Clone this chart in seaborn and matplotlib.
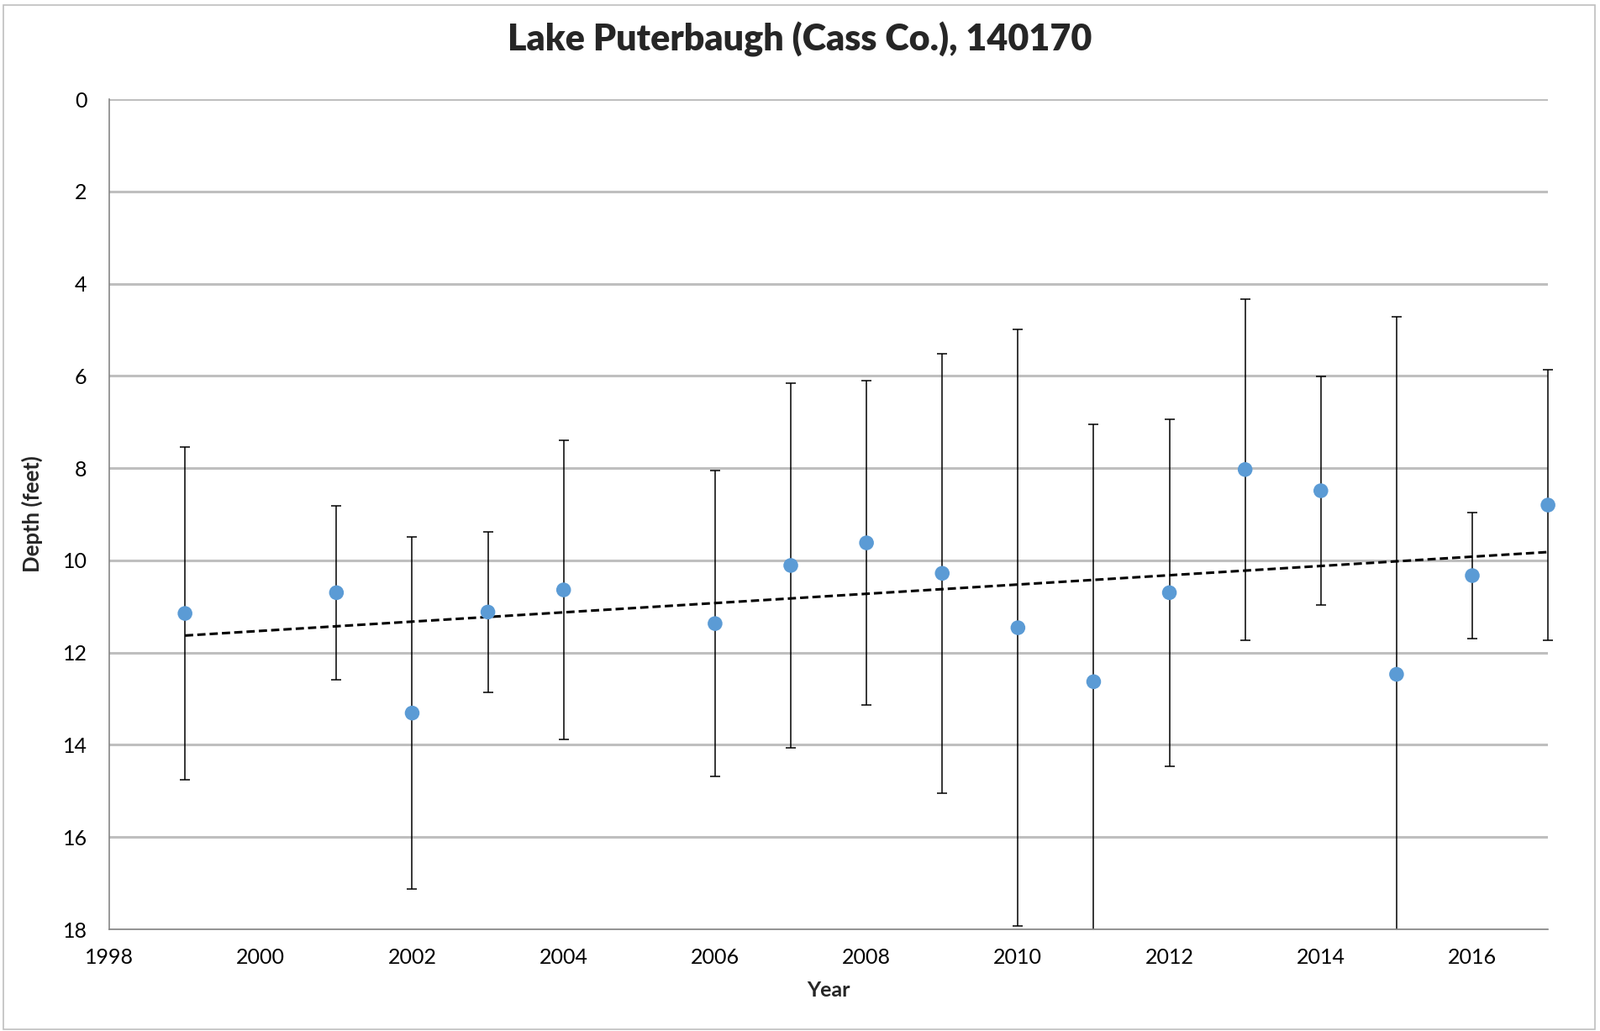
import matplotlib
matplotlib.use("Agg")
import matplotlib.pyplot as plt
import matplotlib.transforms as mtransforms
import seaborn as sns
import numpy as np
import pandas as pd

years = [1999, 2001, 2002, 2003, 2004, 2006, 2007, 2008, 2009, 2010, 2011, 2012, 2013, 2014, 2015, 2016, 2017]
depth = [11.15, 10.70, 13.31, 11.12, 10.64, 11.37, 10.11, 9.62, 10.28, 11.46, 12.63, 10.70, 8.03, 8.49, 12.47, 10.33, 8.80]
err = [3.60, 1.89, 3.82, 1.74, 3.25, 3.32, 3.95, 3.52, 4.76, 6.47, 5.58, 3.76, 3.70, 2.47, 7.76, 1.36, 2.94]

title = "Lake Puterbaugh (Cass Co.), 140170"
xlabel = "Year"
ylabel = "Depth (feet)"
xticks = list(range(1998, 2017, 2))
yticks = list(range(0, 19, 2))

df = pd.DataFrame({"year": years, "depth": depth, "err": err})

sns.set_style("white")
plt.rcParams["font.family"] = ["Lato", "DejaVu Sans"]

fig = plt.figure(figsize=(19.04, 12.27), dpi=100)
ax = fig.add_axes([0.0683, 0.0986, 0.8992, 0.8052])

# outer chart border
fig.patches.append(plt.Rectangle((0.002, 0.002), 0.995, 0.993, transform=fig.transFigure,
                                 fill=False, edgecolor="#BFBFBF", linewidth=1.2))

for y in yticks:
    ax.axhline(y, color="#BFBFBF", linewidth=2.2, zorder=0)

clip_box = mtransforms.TransformedBbox(mtransforms.Bbox([[-0.02, 0.0], [1.03, 1.05]]), ax.transAxes)

eb = ax.errorbar(df["year"], df["depth"], yerr=df["err"], fmt="none", ecolor="black",
                 elinewidth=1.1, capsize=4.5, capthick=1.1, zorder=2)
for art in eb.lines[1] + eb.lines[2]:
    art.set_clip_box(clip_box)

sns.regplot(data=df, x="year", y="depth", scatter=False, ci=None, ax=ax,
            line_kws=dict(color="black", linestyle=(0, (3.2, 1.6)), linewidth=2.2, zorder=3))
sns.scatterplot(data=df, x="year", y="depth", ax=ax, color="#5B9BD5", s=160,
                edgecolor="none", zorder=4, clip_on=False)

ax.set_xlim(1998, 2017)
ax.set_ylim(18, 0)
ax.set_xticks(xticks)
ax.set_yticks(yticks)
ax.tick_params(axis="both", labelsize=18, colors="#868686", labelcolor="black")
ax.tick_params(axis="x", direction="inout", length=14, width=1.2, pad=9)
ax.tick_params(axis="y", direction="out", length=7, width=1.2, pad=12)

for s in ["top", "right"]:
    ax.spines[s].set_visible(False)
for s in ["left", "bottom"]:
    ax.spines[s].set_color("#868686")
    ax.spines[s].set_linewidth(1.2)

ax.set_xlabel(xlabel, fontsize=18, fontweight="bold", labelpad=11)
ax.set_ylabel(ylabel, fontsize=18.5, fontweight="bold", labelpad=17)
fig.text(0.5, 0.962, title, ha="center", va="center", fontsize=31, fontweight="heavy")

fig.savefig("out.png", dpi=100)
